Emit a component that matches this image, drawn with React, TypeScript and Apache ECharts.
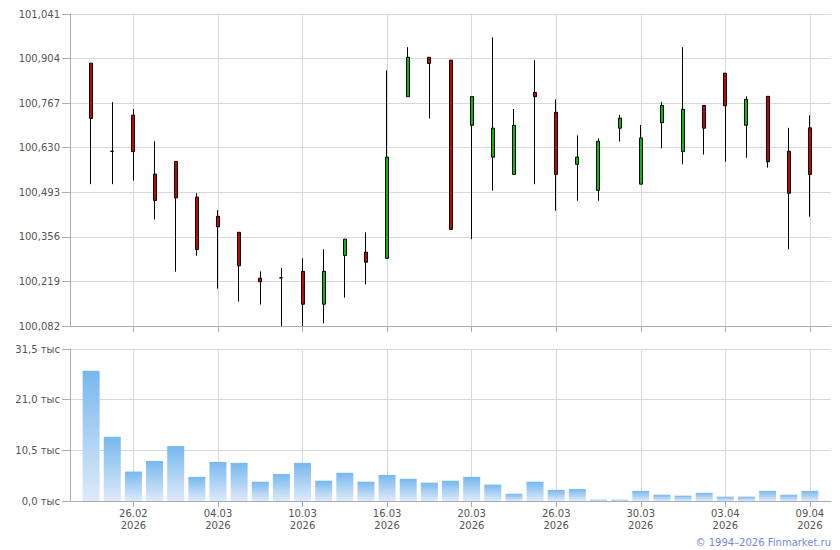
import React, { useEffect, useRef } from "react";
import * as echarts from "echarts";

const DATES = [
  "24.02.2026", "25.02.2026", "26.02.2026", "27.02.2026", "02.03.2026", "03.03.2026", "04.03.2026",
  "05.03.2026", "06.03.2026", "09.03.2026", "10.03.2026", "11.03.2026", "12.03.2026", "13.03.2026",
  "16.03.2026", "17.03.2026", "18.03.2026", "19.03.2026", "20.03.2026", "23.03.2026", "24.03.2026",
  "25.03.2026", "26.03.2026", "27.03.2026", "28.03.2026", "29.03.2026", "30.03.2026", "31.03.2026",
  "01.04.2026", "02.04.2026", "03.04.2026", "06.04.2026", "07.04.2026", "08.04.2026", "09.04.2026",
];

const LABEL_DATES = [
  "26.02.2026", "04.03.2026", "10.03.2026", "16.03.2026", "20.03.2026",
  "26.03.2026", "30.03.2026", "03.04.2026", "09.04.2026",
];

const OPEN = [
  100.890, 100.619, 100.730, 100.549, 100.588, 100.478, 100.419, 100.370, 100.229, 100.230,
  100.250, 100.149, 100.299, 100.309, 100.290, 100.787, 100.908, 100.899, 100.699, 100.601,
  100.548, 100.800, 100.739, 100.579, 100.499, 100.690, 100.518, 100.707, 100.618, 100.760,
  100.859, 100.699, 100.788, 100.619, 100.691,
];
const CLOSE = [
  100.720, 100.619, 100.618, 100.468, 100.476, 100.317, 100.387, 100.267, 100.218, 100.230,
  100.149, 100.250, 100.349, 100.278, 100.601, 100.908, 100.889, 100.379, 100.787, 100.690,
  100.699, 100.787, 100.548, 100.601, 100.650, 100.721, 100.660, 100.760, 100.748, 100.690,
  100.759, 100.779, 100.587, 100.490, 100.548,
];
const LOW = [
  100.518, 100.518, 100.529, 100.409, 100.249, 100.298, 100.197, 100.157, 100.148, 100.082,
  100.082, 100.090, 100.169, 100.210, 100.290, 100.787, 100.720, 100.379, 100.349, 100.498,
  100.548, 100.518, 100.436, 100.467, 100.467, 100.649, 100.518, 100.628, 100.579, 100.609,
  100.587, 100.599, 100.569, 100.318, 100.418,
];
const HIGH = [
  100.890, 100.770, 100.749, 100.650, 100.588, 100.490, 100.438, 100.370, 100.250, 100.260,
  100.290, 100.318, 100.349, 100.370, 100.868, 100.939, 100.908, 100.899, 100.787, 100.969,
  100.749, 100.899, 100.779, 100.668, 100.659, 100.731, 100.700, 100.771, 100.939, 100.760,
  100.859, 100.788, 100.788, 100.691, 100.730,
];
// volume, thousands
const VOLUME = [
  27.0, 13.3, 6.1, 8.3, 11.4, 5.0, 8.1, 7.9, 4.0, 5.6, 7.9, 4.2, 5.85, 4.0, 5.4, 4.6, 3.8, 4.2,
  5.0, 3.4, 1.5, 4.0, 2.3, 2.5, 0.27, 0.27, 2.1, 1.3, 1.1, 1.7, 0.9, 0.9, 2.1, 1.3, 2.1,
];

const PRICE_MIN = 100.082;
const PRICE_MAX = 101.041;
const PRICE_STEP = 0.137;
const VOL_MAX = 31.5;
const VOL_STEP = 10.5;

const FONT = "DejaVu Sans";
const LABEL_COLOR = "#555";
const GRID_COLOR = "#d5d9de";
const AXIS_COLOR = "#a7adb6";

export default function App() {
  const ref = useRef<HTMLDivElement>(null);

  useEffect(() => {
    if (!ref.current) return;
    const chart = echarts.init(ref.current, undefined, { renderer: "svg" });
    const cats = ["", ...DATES, ""];
    const isLabelled = (i: number) => LABEL_DATES.includes(cats[i]);
    const ohlc = DATES.map((_, i) => [OPEN[i], CLOSE[i], LOW[i], HIGH[i]]);
    const candleData: any[] = ["-", ...ohlc, "-"];
    const volData: any[] = ["-", ...VOLUME, "-"];

    const xCommon = {
      type: "category",
      data: cats,
      boundaryGap: false,
      axisLine: { show: true, lineStyle: { color: AXIS_COLOR, width: 1 } },
      axisTick: {
        show: true,
        interval: isLabelled,
        length: 6,
        lineStyle: { color: AXIS_COLOR },
      },
      splitLine: {
        show: true,
        interval: isLabelled,
        lineStyle: { color: GRID_COLOR, width: 1 },
      },
    };

    chart.setOption({
      animation: false,
      backgroundColor: "#fff",
      grid: [
        { left: 70, right: 9, top: 14, height: 312, containLabel: false },
        { left: 70, right: 9, top: 349, height: 152, containLabel: false },
      ],
      xAxis: [
        { ...xCommon, gridIndex: 0, axisLabel: { show: false } },
        {
          ...xCommon,
          gridIndex: 1,
          axisLabel: {
            show: true,
            interval: isLabelled,
            margin: 6,
            color: LABEL_COLOR,
            fontFamily: FONT,
            fontSize: 10,
            lineHeight: 12,
            formatter: (v: string) => {
              const p = v.split(".");
              return p[0] + "." + p[1] + "\n" + p[2];
            },
          },
        },
      ],
      yAxis: [
        {
          type: "value",
          gridIndex: 0,
          min: PRICE_MIN,
          max: PRICE_MAX,
          interval: PRICE_STEP,
          axisLine: { show: true, lineStyle: { color: AXIS_COLOR } },
          axisTick: { show: true, length: 8, lineStyle: { color: AXIS_COLOR } },
          splitLine: { show: true, lineStyle: { color: GRID_COLOR } },
          axisLabel: {
            margin: 10,
            color: LABEL_COLOR,
            fontFamily: FONT,
            fontSize: 10,
            showMinLabel: true,
            showMaxLabel: true,
            formatter: (v: number) => v.toFixed(3).replace(".", ","),
          },
        },
        {
          type: "value",
          gridIndex: 1,
          min: 0,
          max: VOL_MAX,
          interval: VOL_STEP,
          axisLine: { show: true, lineStyle: { color: AXIS_COLOR } },
          axisTick: { show: true, length: 8, lineStyle: { color: AXIS_COLOR } },
          splitLine: { show: true, lineStyle: { color: GRID_COLOR } },
          axisLabel: {
            margin: 10,
            color: LABEL_COLOR,
            fontFamily: FONT,
            fontSize: 10,
            formatter: (v: number) => v.toFixed(1).replace(".", ",") + " тыс",
          },
        },
      ],
      series: [
        {
          type: "candlestick",
          xAxisIndex: 0,
          yAxisIndex: 0,
          data: candleData,
          barWidth: 3.5,
          clip: true,
          itemStyle: {
            color: "#00c000",
            color0: "#cc0000",
            borderColor: "#000",
            borderColor0: "#000",
            borderColorDoji: "#000",
            borderWidth: 1,
          },
        },
        {
          type: "bar",
          xAxisIndex: 1,
          yAxisIndex: 1,
          data: volData,
          barWidth: 17,
          itemStyle: {
            color: new echarts.graphic.LinearGradient(0, 0, 0, 1, [
              { offset: 0, color: "#77b8ef" },
              { offset: 1, color: "#deeaf8" },
            ]),
          },
        },
      ],
      graphic: [
        {
          type: "text",
          right: 9,
          top: 537,
          style: {
            text: "© 1994–2026 Finmarket.ru",
            fill: "#7388e0",
            font: `10px "${FONT}"`,
          },
        },
      ],
    });

    return () => chart.dispose();
  }, []);

  return (
    <div
      ref={ref}
      style={{ position: "fixed", left: 0, top: 0, width: 840, height: 550 }}
    />
  );
}
